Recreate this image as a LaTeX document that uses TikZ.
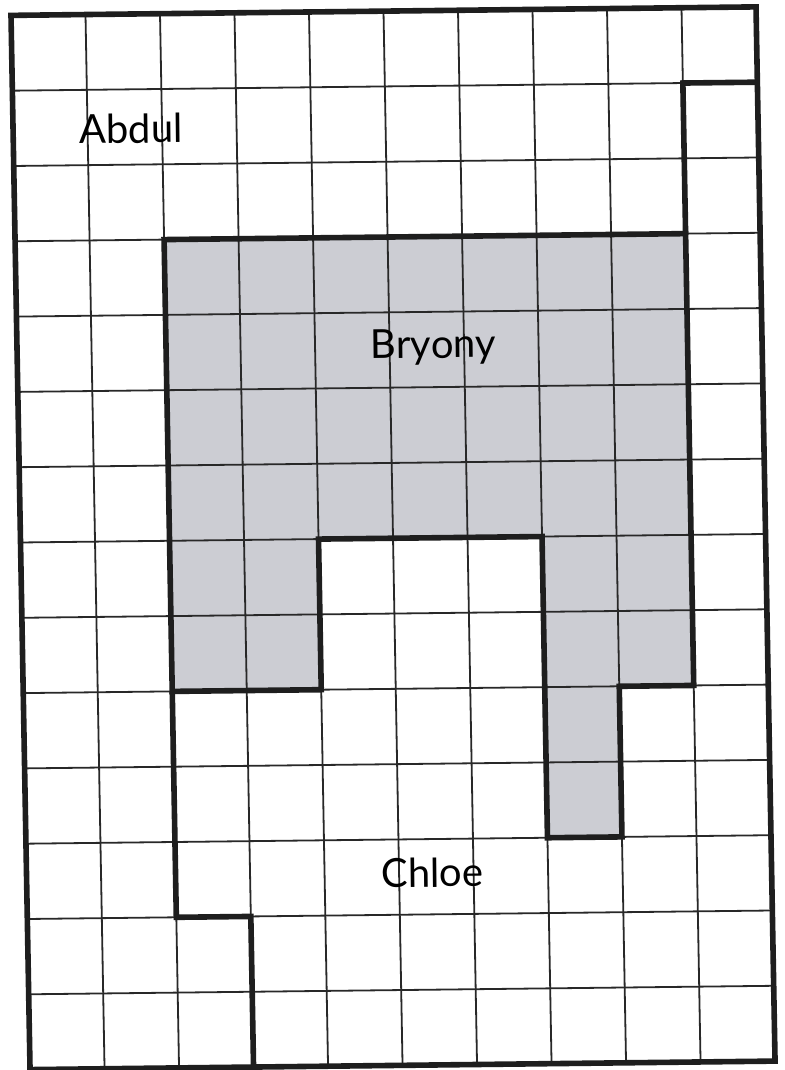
\documentclass[tikz,border=0pt]{standalone}
\usepackage{fontspec}
\setmainfont{Lato}
\definecolor{gridink}{RGB}{40,40,40}
\definecolor{frameink}{RGB}{30,30,30}
\definecolor{bryfill}{RGB}{204,205,211}
\tikzset{
  gridline/.style={draw=gridink, line width=1.8pt},
  thickline/.style={draw=frameink, line width=5.6pt, line join=miter, line cap=butt},
  region/.style={fill=bryfill},
  namelabel/.style={font=\fontsize{40}{44}\selectfont, text=black, inner sep=0pt, anchor=base, rotate=0.65}
}
\begin{document}
\begin{tikzpicture}[x=1pt,y=1pt]
\useasboundingbox (0,0) rectangle (784,1070);
\fill[white] (0,0) rectangle (784,1070);
\begin{scope}[shift={(11pt,1054.6pt)}, x={(74.5pt,0.85pt)}, y={(1.36pt,-75.3pt)}]
  % Bryony shaded region
  \path[region] (2,3) -- (9,3) -- (9,9) -- (8,9) -- (8,11) -- (7,11) -- (7,7) -- (4,7) -- (4,9) -- (2,9) -- cycle;
  % thin grid
  \foreach \i in {1,...,9} { \draw[gridline] (\i,0) -- (\i,14); }
  \foreach \j in {1,...,13} { \draw[gridline] (0,\j) -- (10,\j); }
  % outer frame
  \draw[thickline] (0,0) -- (10,0) -- (10,14) -- (0,14) -- cycle;
  % Bryony boundary
  \draw[thickline] (2,3) -- (9,3) -- (9,9) -- (8,9) -- (8,11) -- (7,11) -- (7,7) -- (4,7) -- (4,9) -- (2,9) -- cycle;
  % Chloe boundaries
  \draw[thickline] (10,1) -- (9,1) -- (9,3);
  \draw[thickline] (2,9) -- (2,12) -- (3,12) -- (3,14);
\end{scope}
\node[namelabel] (abdul) at (131,927) {Abdul};
\node[namelabel] (bryony) at (433.5,712) {Bryony};
\node[namelabel] (chloe) at (432.5,183) {Chloe};
\end{tikzpicture}
\end{document}
